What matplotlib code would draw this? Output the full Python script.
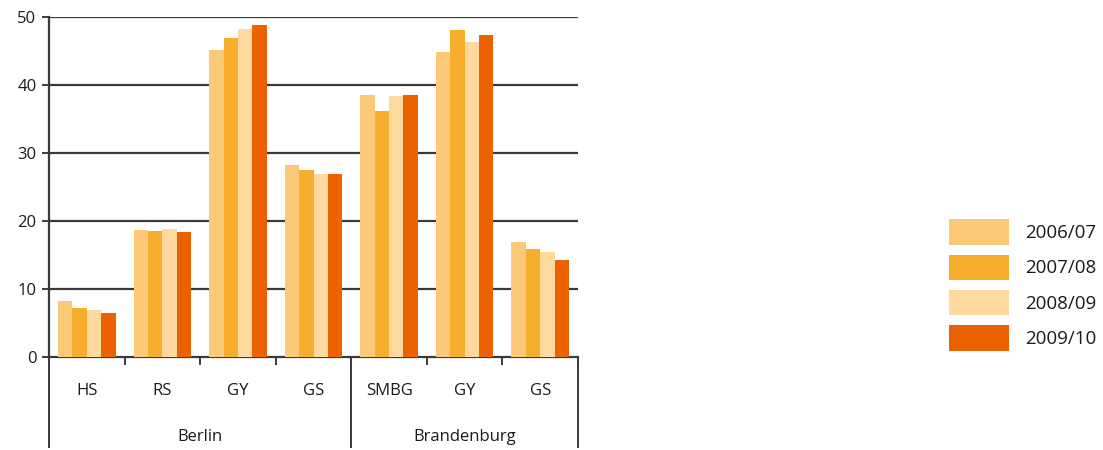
import numpy as np
import matplotlib.pyplot as plt
from matplotlib.patches import Patch
from matplotlib.transforms import blended_transform_factory

plt.rcParams['font.family'] = ['Open Sans', 'DejaVu Sans']

categories = ['HS', 'RS', 'GY', 'GS', 'SMBG', 'GY', 'GS']
groups = ['Berlin', 'Brandenburg']
group_sizes = [4, 3]
years = ['2006/07', '2007/08', '2008/09', '2009/10']
v0607 = [8.2, 18.7, 45.1, 28.2, 38.5, 44.9, 16.9]
v0708 = [7.2, 18.5, 46.9, 27.5, 36.2, 48.1, 15.9]
v0809 = [6.9, 18.8, 48.2, 26.9, 38.4, 46.3, 15.4]
v0910 = [6.5, 18.4, 48.8, 26.9, 38.5, 47.4, 14.3]
series = [v0607, v0708, v0809, v0910]
colors = ['#FBC977', '#F8AE2D', '#FDD9A0', '#EC6203']

fs = 12
fig = plt.figure(figsize=(11.03, 4.5), dpi=100)
ax = fig.add_axes([49/1103, 93/450, 529/1103, 340/450])

x = np.arange(len(categories))
w = 0.19
for i, (vals, c) in enumerate(zip(series, colors)):
    ax.bar(x + (i - 1.5) * w, vals, width=w, color=c, zorder=3, label=years[i])

ax.set_xlim(-0.5, len(categories) - 0.5)
ax.set_ylim(0, 50)
ax.set_yticks(range(0, 51, 10))
for yv in range(10, 51, 10):
    ax.axhline(yv, color='#3a3a3a', lw=1.6, zorder=1)

for s in ['top', 'right']:
    ax.spines[s].set_visible(False)
ax.spines['left'].set_color('#3a3a3a')
ax.spines['left'].set_linewidth(1.6)
ax.spines['bottom'].set_color('#3a3a3a')
ax.spines['bottom'].set_linewidth(1.6)
ax.tick_params(axis='y', length=5, width=1.4, color='#3a3a3a', labelsize=fs,
               labelcolor='#1a1a1a', pad=4)
ax.set_xticks(np.arange(-0.5, len(categories), 1.0))
ax.set_xticklabels([])
ax.tick_params(axis='x', length=6, width=1.4, color='#3a3a3a', direction='out')

tr = blended_transform_factory(ax.transData, ax.transAxes)
for i, lab in enumerate(categories):
    ax.text(i, -0.1, lab, transform=tr, ha='center', va='center', fontsize=fs, color='#1a1a1a')

bounds = np.cumsum([0] + group_sizes) - 0.5
for b in bounds:
    ax.plot([b, b], [0, -0.265], transform=tr, color='#3a3a3a', lw=1.4, clip_on=False)
for g, a, b in zip(groups, bounds[:-1], bounds[1:]):
    ax.text((a + b) / 2, -0.235, g, transform=tr, ha='center', va='center', fontsize=fs, color='#1a1a1a')

lfs = 13.5
px = lfs * 100 / 72
handles = [Patch(facecolor=c, edgecolor='none') for c in colors]
fig.legend(handles, years, loc='center left', bbox_to_anchor=(949/1103, 1 - 285/450),
           frameon=False, fontsize=lfs, handlelength=60/px, handleheight=1.7,
           handletextpad=16/px, labelspacing=10/px, borderpad=0, borderaxespad=0,
           labelcolor='#1a1a1a')

fig.savefig('out.png', dpi=100)
